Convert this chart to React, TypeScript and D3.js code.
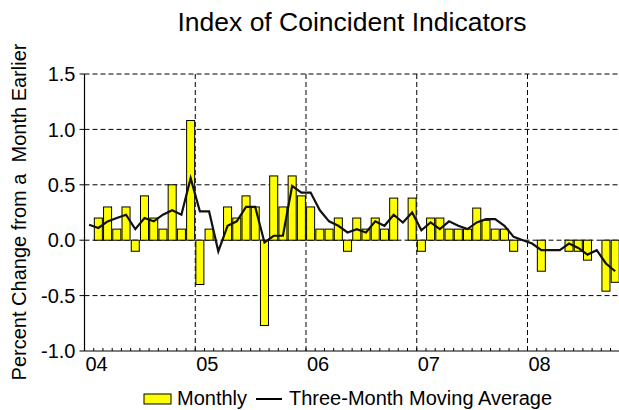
import React from "react";
import * as d3 from "d3";

const years = ["04", "05", "06", "07", "08"];
const yTicks = [1.5, 1.0, 0.5, 0.0, -0.5, -1.0];

// Monthly percent change, Jan 2004 – Oct 2008 (null = no bar drawn)
const monthly: (number | null)[] = [
  0, 0.2, 0.3, 0.1, 0.3, -0.1, 0.4, 0.2, 0.1, 0.5, 0.1, 1.08,
  -0.4, 0.1, 0, 0.3, 0.2, 0.4, 0.3, -0.77, 0.58, 0.3, 0.58, 0.4,
  0.3, 0.1, 0.1, 0.2, -0.1, 0.2, 0.1, 0.2, 0.1, 0.38, 0, 0.38,
  -0.1, 0.2, 0.2, 0.1, 0.1, 0.1, 0.29, 0.18, 0.1, 0.1, -0.1, null,
  null, -0.28, null, null, -0.1, -0.1, -0.18, null, -0.46, -0.38,
];

// Three-month moving average
const movingAvg: number[] = [
  0.14, 0.11, 0.17, 0.2, 0.23, 0.1, 0.2, 0.17, 0.23, 0.27, 0.23, 0.56,
  0.26, 0.26, -0.1, 0.13, 0.17, 0.3, 0.3, -0.02, 0.04, 0.04, 0.49, 0.43,
  0.43, 0.27, 0.17, 0.13, 0.07, 0.1, 0.07, 0.17, 0.13, 0.23, 0.16, 0.25,
  0.09, 0.16, 0.1, 0.17, 0.13, 0.1, 0.16, 0.19, 0.19, 0.13, 0.03, 0.0,
  -0.03, -0.09, -0.09, -0.09, -0.03, -0.07, -0.13, -0.09, -0.21, -0.28,
];

const W = 619;
const H = 410;
const left = 84.5;
const right = 619.8;
const top = 74;
const bottom = 351;
const FONT = "'Liberation Sans', Arial, Helvetica, sans-serif";

export default function App() {
  const n = monthly.length;
  const x = d3.scaleLinear().domain([0, n]).range([left, right]);
  const y = d3.scaleLinear().domain([-1, 1.5]).range([bottom, top]);
  const slot = x(1) - x(0);
  const barW = slot * 0.87;

  const line = d3
    .line<number>()
    .x((_, i) => x(i + 0.5))
    .y((d) => y(d));

  const dash = "5,3";

  return (
    <svg
      width={W}
      height={H}
      style={{ position: "absolute", left: 0, top: 0, background: "#fff" }}
      fontFamily={FONT}
    >
      {/* horizontal grid */}
      {yTicks
        .filter((t) => t > -1)
        .map((t) => (
          <line
            key={"h" + t}
            x1={left}
            x2={right}
            y1={y(t)}
            y2={y(t)}
            stroke="#000"
            strokeWidth={1}
            strokeDasharray={dash}
          />
        ))}
      {/* vertical year grid */}
      {years.slice(1).map((yr, i) => (
        <line
          key={"v" + yr}
          x1={x((i + 1) * 12)}
          x2={x((i + 1) * 12)}
          y1={top}
          y2={bottom + 3}
          stroke="#000"
          strokeWidth={1}
          strokeDasharray={dash}
        />
      ))}
      {/* bars */}
      {monthly.map((v, i) =>
        v === null ? null : (
          <rect
            key={"b" + i}
            x={x(i + 0.5) - barW / 2}
            width={barW}
            y={y(Math.max(0, v))}
            height={Math.abs(y(v) - y(0))}
            fill="#FFFF00"
            stroke="#000"
            strokeWidth={1}
          />
        )
      )}
      {/* moving average line */}
      <path d={line(movingAvg) || ""} fill="none" stroke="#111" strokeWidth={2.2} />
      {/* axes */}
      <line x1={left} x2={left} y1={top} y2={bottom} stroke="#000" strokeWidth={1.2} />
      <line x1={left} x2={right} y1={bottom} y2={bottom} stroke="#000" strokeWidth={1.2} />
      {d3.range(1, n).map((i) => (
        <line
          key={"mt" + i}
          x1={x(i)}
          x2={x(i)}
          y1={bottom}
          y2={bottom - 3}
          stroke="#000"
          strokeWidth={1}
        />
      ))}
      {yTicks.map((t) => (
        <g key={"yt" + t}>
          <line x1={left - 5} x2={left} y1={y(t)} y2={y(t)} stroke="#000" strokeWidth={1} />
          <text
            x={left - 9}
            y={y(t)}
            dy="0.36em"
            textAnchor="end"
            fontSize={20}
            fill="#000"
          >
            {t.toFixed(1)}
          </text>
        </g>
      ))}
      {years.map((yr, i) => (
        <text key={"xl" + yr} x={x(i * 12) + 1} y={371} fontSize={20} fill="#000">
          {yr}
        </text>
      ))}
      {/* title */}
      <text x={352} y={31} textAnchor="middle" fontSize={26.5} fill="#000">
        Index of Coincident Indicators
      </text>
      {/* y label */}
      <text
        transform={`translate(26,212) rotate(-90)`}
        textAnchor="middle"
        fontSize={20}
        fill="#000"
        style={{ whiteSpace: "pre" }}
      >
        {"Percent Change from a  Month Earlier"}
      </text>
      {/* legend */}
      <rect x={144} y={394} width={27} height={10} fill="#FFFF00" stroke="#000" strokeWidth={1} />
      <text x={177} y={405} fontSize={20} fill="#000">
        Monthly
      </text>
      <line x1={256} x2={282} y1={399} y2={399} stroke="#000" strokeWidth={2} />
      <text x={289} y={405} fontSize={20} fill="#000">
        Three-Month Moving Average
      </text>
    </svg>
  );
}
